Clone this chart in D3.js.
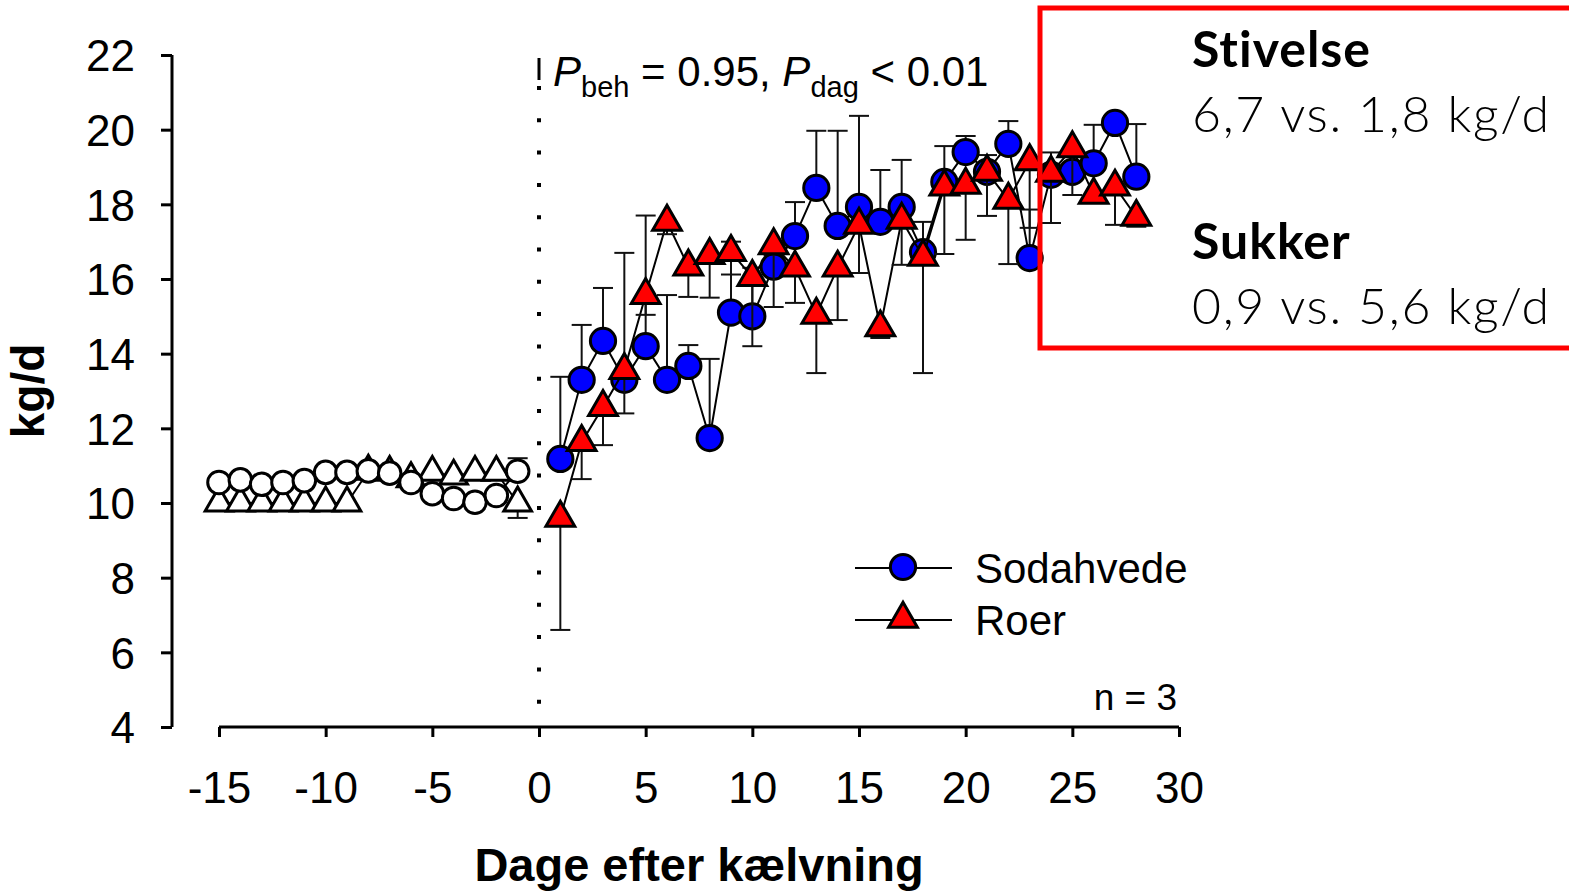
<!DOCTYPE html>
<head>
<meta charset="utf-8">
<style type="text/css">
body { margin: 0; background: white; }
svg text { font-family: "Liberation Sans", Arial, sans-serif; fill: black; }
.axis path, .axis line { stroke: black; stroke-width: 3; }
.axis text { font-size: 44px; }
.box text { font-family: Lato, "Noto Sans", sans-serif; }
</style>
</head>
<body>
<script src="https://d3js.org/d3.v7.min.js"></script>
<script type="text/javascript">
  // before calving (open markers)
  var preDays = [-15, -14, -13, -12, -11, -10, -9, -8, -7, -6, -5, -4, -3, -2, -1];
  var preSoda = [10.55, 10.62, 10.5, 10.55, 10.6, 10.82, 10.82, 10.86, 10.8, 10.55, 10.25, 10.12, 10.02, 10.2, 10.85];
  var preSodaSe = [0.1, 0.1, 0.12, 0.12, 0.1, 0.12, 0.1, 0.1, 0.1, 0.1, 0.12, 0.1, 0.1, 0.12, 0.35];
  var preRoer = [10.0, 10.0, 10.0, 10.0, 10.0, 10.0, 10.0, 10.85, 10.82, 10.65, 10.82, 10.72, 10.82, 10.82, 10.0];
  var preRoerSe = [0.1, 0.1, 0.1, 0.1, 0.1, 0.1, 0.1, 0.2, 0.2, 0.2, 0.2, 0.2, 0.2, 0.2, 0.4];

  // after calving
  var postDays = [1, 2, 3, 4, 5, 6, 7, 8, 9, 10, 11, 12, 13, 14, 15, 16, 17, 18, 19, 20, 21, 22, 23, 24, 25, 26, 27, 28];
  var soda = [11.18, 13.3, 14.34, 13.3, 14.2, 13.3, 13.67, 11.74, 15.1, 15.0, 16.33, 17.15, 18.44, 17.42,
              17.93, 17.53, 17.93, 16.72, 18.6, 19.4, 18.87, 19.62, 16.56, 18.79, 18.87, 19.1, 20.18, 18.74];
  var sodaSe = [2.2, 1.47, 1.42, 3.4, 3.5, 2.27, 0.56, 2.12, 1.9, 1.3, 0.3, 0.91, 1.53, 2.55,
                2.44, 1.39, 1.26, 0.81, 0.96, 0.43, 0.45, 0.61, 1.3, 0.6, 0.6, 1.03, 0.1, 1.41];
  var roer = [9.6, 11.63, 12.57, 13.56, 15.57, 17.53, 16.33, 16.64, 16.72, 16.05, 16.9, 16.3, 15.04, 16.3,
              17.45, 14.7, 17.58, 16.59, 18.47, 18.52, 18.87, 18.12, 19.15, 18.84, 19.5, 18.25, 18.47, 17.66];
  var roerSe = [3.0, 0.99, 1.02, 1.16, 0.53, 0.33, 0.81, 1.14, 0.6, 1.85, 1.65, 0.94, 1.56, 1.4,
                1.29, 0.28, 1.2, 3.11, 1.8, 1.47, 1.18, 1.72, 1.78, 1.34, 1.25, 0.2, 1.02, 0.26];

  var xTicks = [-15, -10, -5, 0, 5, 10, 15, 20, 25, 30];
  var yTicks = [4, 6, 8, 10, 12, 14, 16, 18, 20, 22];

  var svg = d3.select('body').append('svg')
          .attr('width', 1569)
          .attr('height', 892);

  var x = d3.scaleLinear().domain([-15, 30]).range([219, 1179]);
  var y = d3.scaleLinear().domain([4, 22]).range([727, 55]);

  // axes
  svg.append('g').attr('class', 'axis')
          .attr('transform', 'translate(172,0)')
          .call(d3.axisLeft(y).tickValues(yTicks).tickFormat(String).tickSize(11).tickPadding(26).tickSizeOuter(0))
          .call(function(g){ g.select('.domain').attr('d', 'M0,' + y(22) + 'V' + y(4)); })
          .selectAll('text').attr('dy', '0.36em');

  svg.append('g').attr('class', 'axis')
          .attr('transform', 'translate(0,' + y(4) + ')')
          .call(d3.axisBottom(x).tickValues(xTicks).tickFormat(String).tickSize(10).tickPadding(35).tickSizeOuter(0))
          .call(function(g){ g.select('.domain').attr('d', 'M' + x(-15) + ',0H' + x(30)); });

  svg.append('text')
          .attr('transform', 'translate(44,391) rotate(-90)')
          .attr('text-anchor', 'middle')
          .style('font-size', '46px').style('font-weight', 'bold')
          .text('kg/d');

  svg.append('text')
          .attr('x', 699).attr('y', 881)
          .attr('text-anchor', 'middle')
          .style('font-size', '47px').style('font-weight', 'bold')
          .text('Dage efter kælvning');

  // dotted line at calving
  svg.append('line')
          .attr('x1', x(0)).attr('x2', x(0))
          .attr('y1', 58).attr('y2', 80)
          .attr('stroke', 'black').attr('stroke-width', 3);
  svg.append('line')
          .attr('x1', x(0)).attr('x2', x(0))
          .attr('y1', 86).attr('y2', y(4))
          .attr('stroke', 'black').attr('stroke-width', 4)
          .attr('stroke-dasharray', '4,28.3');

  // p-values
  var t = svg.append('text').attr('x', 553).attr('y', 86).style('font-size', '42px');
  t.append('tspan').style('font-style', 'italic').text('P');
  t.append('tspan').attr('dy', 11).style('font-size', '29px').text('beh');
  t.append('tspan').attr('dy', -11).text(' = 0.95, ');
  t.append('tspan').style('font-style', 'italic').text('P');
  t.append('tspan').attr('dy', 11).style('font-size', '29px').text('dag');
  t.append('tspan').attr('dy', -11).text(' < 0.01');

  var line = d3.line().x(function(d){ return x(d.day); }).y(function(d){ return y(d.v); });

  function zip(days, vals, se){
    return days.map(function(d, i){ return {day: d, v: vals[i], se: se[i]}; });
  }

  function drawSeries(data, shape, size, fill, dir){
    var g = svg.append('g');
    g.append('path').datum(data)
            .attr('d', line)
            .attr('fill', 'none').attr('stroke', 'black').attr('stroke-width', 2);
    var eb = g.selectAll('.eb').data(data).enter().append('g').attr('class', 'eb');
    eb.append('line')
            .attr('x1', function(d){ return x(d.day); })
            .attr('x2', function(d){ return x(d.day); })
            .attr('y1', function(d){ return y(d.v); })
            .attr('y2', function(d){ return y(d.v + dir * d.se); })
            .attr('stroke', '#111').attr('stroke-width', 2);
    eb.append('line')
            .attr('x1', function(d){ return x(d.day) - 10; })
            .attr('x2', function(d){ return x(d.day) + 10; })
            .attr('y1', function(d){ return y(d.v + dir * d.se); })
            .attr('y2', function(d){ return y(d.v + dir * d.se); })
            .attr('stroke', '#111').attr('stroke-width', 2);
    g.selectAll('.pt').data(data).enter().append('path')
            .attr('class', 'pt')
            .attr('transform', function(d){ return 'translate(' + x(d.day) + ',' + y(d.v) + ')'; })
            .attr('d', d3.symbol().type(shape).size(size))
            .attr('fill', fill).attr('stroke', 'black').attr('stroke-width', 3);
  }

  drawSeries(zip(preDays, preRoer, preRoerSe), d3.symbolTriangle, 330, 'white', -1);
  drawSeries(zip(preDays, preSoda, preSodaSe), d3.symbolCircle, 400, 'white', 1);
  drawSeries(zip(postDays, soda, sodaSe), d3.symbolCircle, 500, '#0000ff', 1);
  drawSeries(zip(postDays, roer, roerSe), d3.symbolTriangle, 360, '#ff0000', -1);

  // legend
  var legend = [
    {name: 'Sodahvede', shape: d3.symbolCircle, size: 500, fill: '#0000ff', y: 568},
    {name: 'Roer', shape: d3.symbolTriangle, size: 360, fill: '#ff0000', y: 620}
  ];
  var lg = svg.selectAll('.lg').data(legend).enter().append('g').attr('class', 'lg');
  lg.append('line')
          .attr('x1', 855).attr('x2', 952)
          .attr('y1', function(d){ return d.y; }).attr('y2', function(d){ return d.y; })
          .attr('stroke', 'black').attr('stroke-width', 2);
  lg.append('path')
          .attr('transform', function(d){ return 'translate(903,' + (d.y - 1) + ')'; })
          .attr('d', function(d){ return d3.symbol().type(d.shape).size(d.size)(); })
          .attr('fill', function(d){ return d.fill; })
          .attr('stroke', 'black').attr('stroke-width', 3);
  lg.append('text')
          .attr('x', 975).attr('y', function(d){ return d.y + 15; })
          .style('font-size', '42px')
          .text(function(d){ return d.name; });

  svg.append('text')
          .attr('x', 1177).attr('y', 710)
          .attr('text-anchor', 'end')
          .style('font-size', '37px')
          .text('n = 3');

  // red box
  var box = svg.append('g').attr('class', 'box');
  box.append('rect')
          .attr('x', 1040).attr('y', 8)
          .attr('width', 600).attr('height', 340)
          .attr('fill', 'none').attr('stroke', '#ff0000').attr('stroke-width', 5);
  var boxText = [
    {t: 'Stivelse', y: 67, bold: true},
    {t: '6,7 vs. 1,8 kg/d', y: 132, bold: false},
    {t: 'Sukker', y: 259, bold: true},
    {t: '0,9 vs. 5,6 kg/d', y: 324, bold: false}
  ];
  box.selectAll('text').data(boxText).enter().append('text')
          .attr('x', 1192)
          .attr('y', function(d){ return d.y; })
          .style('font-size', '50px')
          .style('font-weight', function(d){ return d.bold ? 'bold' : 300; })
          .style('letter-spacing', function(d){ return d.bold ? '1px' : '1.7px'; })
          .text(function(d){ return d.t; });
</script>
</body>
